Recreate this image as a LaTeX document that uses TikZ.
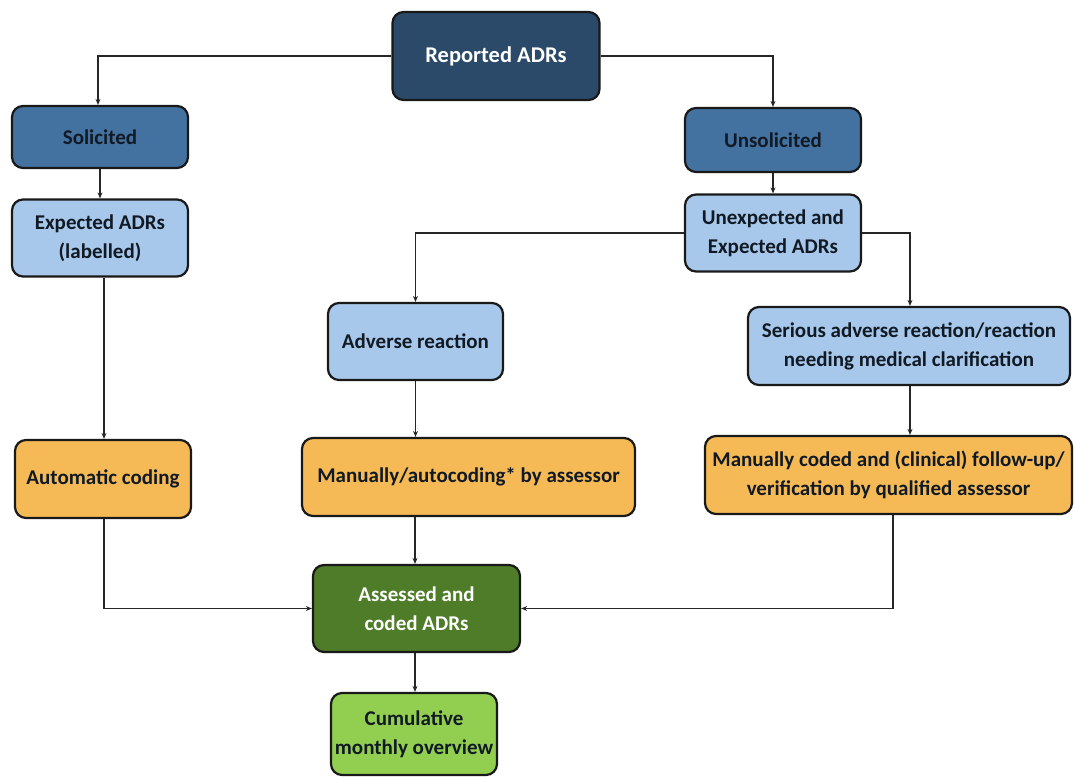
\documentclass[tikz,border=0pt]{standalone}
\usepackage{fontspec}
\setmainfont{Carlito}
\usetikzlibrary{arrows.meta}
\definecolor{cTop}{HTML}{2B4A6A}
\definecolor{cMid}{HTML}{4472A0}
\definecolor{cLight}{HTML}{A7C8EA}
\definecolor{cOrange}{HTML}{F5BA55}
\definecolor{cDGreen}{HTML}{4F7C28}
\definecolor{cLGreen}{HTML}{92CF50}
\definecolor{cText}{HTML}{111A24}
\tikzset{
  box/.style={draw=black!90, line width=2.2pt, rounded corners=11pt, inner sep=0pt, align=center,
    font=\fontsize{21}{29}\selectfont\bfseries, text=cText},
  conn/.style={line width=1.4pt, draw=black!85, -{Stealth[length=6pt,width=5pt]}},
}
\begin{document}
\begin{tikzpicture}[x=1pt,y=-1pt]
\useasboundingbox (0,0) rectangle (1074,778);
\node[box, fill=cTop, text=white, minimum width=207pt, minimum height=88pt, font=\fontsize{22.5}{29}\selectfont\bfseries] (rep) at (496,56) {Reported ADRs};
\node[box, fill=cMid, minimum width=176pt, minimum height=62pt] (sol) at (100,137) {Solicited};
\node[box, fill=cMid, minimum width=176pt, minimum height=64pt] (uns) at (773,140) {Unsolicited};
\node[box, fill=cLight, minimum width=176pt, minimum height=77pt] (exp) at (100,238) {Expected ADRs\\(labelled)};
\node[box, fill=cLight, minimum width=176pt, minimum height=77pt] (une) at (773,233) {Unexpected and\\Expected ADRs};
\node[box, fill=cLight, minimum width=175pt, minimum height=77pt] (adv) at (415.5,341.5) {Adverse reaction};
\node[box, fill=cLight, minimum width=322pt, minimum height=78pt] (ser) at (909,346) {Serious adverse reaction/reaction\\needing medical clarification};
\node[box, fill=cOrange, minimum width=176pt, minimum height=78pt] (aut) at (103,479) {Automatic coding};
\node[box, fill=cOrange, minimum width=333pt, minimum height=78pt] (man) at (468.5,477) {Manually/autocoding* by assessor};
\node[box, fill=cOrange, minimum width=367pt, minimum height=78pt] (mcd) at (888.5,475) {Manually coded and (clinical) follow-up/\\verification by qualified assessor};
\node[box, fill=cDGreen, text=white, minimum width=207pt, minimum height=87pt] (ass) at (416.5,608.5) {Assessed and\\coded ADRs};
\node[box, fill=cLGreen, minimum width=166pt, minimum height=82pt] (cum) at (414,734) {Cumulative\\monthly overview};

\draw[conn] (rep.west) -| (sol.north -| 98,0);
\draw[conn] (rep.east) -| (uns.north);
\draw[conn] (sol) -- (exp);
\draw[conn] (uns) -- (une);
\draw[conn] (exp.south -| 104,0) -- (aut.north -| 104,0);
\draw[conn] (une.west) -| (adv.north);
\draw[conn] (une.east) -| (ser.north -| 910,0);
\draw[conn] (adv.south) -- (man.north -| adv.south);
\draw[conn] (ser.south -| 910,0) -- (mcd.north -| 910,0);
\draw[conn] (aut.south -| 104,0) |- (ass.west);
\draw[conn] (man.south -| 415,0) -- (ass.north -| 415,0);
\draw[conn] (mcd.south -| 893,0) |- (ass.east);
\draw[conn] (ass.south -| 415,0) -- (cum.north -| 415,0);
\end{tikzpicture}
\end{document}
